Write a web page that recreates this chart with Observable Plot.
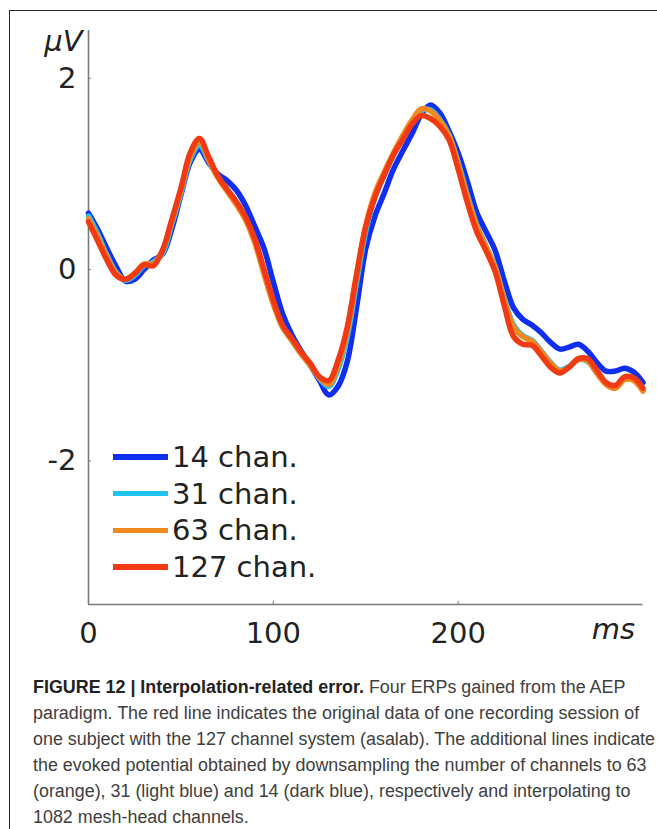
<!DOCTYPE html>
<html><head><meta charset="utf-8">
<script src="https://cdn.jsdelivr.net/npm/d3@7"></script>
<script src="https://cdn.jsdelivr.net/npm/@observablehq/plot@0.6"></script>
<style>
html,body{margin:0;padding:0;background:#fff;width:657px;height:829px;overflow:hidden;position:relative;}
#frame{position:absolute;left:9px;top:10px;width:720px;height:900px;border:1.5px solid #2a2a2a;box-sizing:border-box;}
#chart{position:absolute;left:0;top:0;}
#legend{position:absolute;left:113px;top:438.6px;font-family:"DejaVu Sans";font-size:29px;color:#222;}
.row{height:36.7px;display:flex;align-items:center;white-space:nowrap;}
.sw{width:55px;height:5.5px;margin-right:4px;}
#caption{position:absolute;left:33px;top:674px;font-family:"Liberation Sans";font-size:18px;line-height:26px;color:#404040;white-space:nowrap;transform-origin:0 0;}
#caption b{color:#222;}
#caption div{display:block;}
</style></head><body>
<div id="frame"></div>
<div id="chart"></div>
<div id="legend"></div>
<div id="caption">
<div><b>FIGURE 12 | Interpolation-related error.</b> Four ERPs gained from the AEP</div>
<div>paradigm. The red line indicates the original data of one recording session of</div>
<div id="line3">one subject with the 127 channel system (asalab). The additional lines indicate</div>
<div>the evoked potential obtained by downsampling the number of channels to 63</div>
<div>(orange), 31 (light blue) and 14 (dark blue), respectively and interpolating to</div>
<div>1082 mesh-head channels.</div>
</div>
<script>
// time axis (ms)
const times = [0,5,10,15,20,25,30,35,40,45,50,55,60,65,70,75,80,85,90,95,100,105,110,115,120,125,130,135,140,145,150,155,160,165,170,175,180,185,190,195,200,205,210,215,220,225,230,235,240,245,250,255,260,265,270,275,280,285,290,295,300];

// evoked potentials (µV)
const chan14 = [0.59,0.42,0.22,0.03,-0.12,-0.10,0.00,0.10,0.16,0.42,0.78,1.12,1.26,1.12,1.00,0.93,0.83,0.67,0.45,0.22,-0.13,-0.46,-0.68,-0.85,-1.00,-1.16,-1.31,-1.22,-0.96,-0.40,0.22,0.56,0.80,1.05,1.24,1.42,1.62,1.72,1.64,1.45,1.22,0.92,0.60,0.40,0.20,-0.12,-0.40,-0.52,-0.58,-0.66,-0.76,-0.83,-0.81,-0.78,-0.85,-0.97,-1.06,-1.06,-1.03,-1.07,-1.18];
const chan31 = [0.56,0.37,0.15,-0.03,-0.11,-0.06,0.04,0.08,0.17,0.47,0.80,1.15,1.30,1.14,0.97,0.84,0.70,0.53,0.30,-0.03,-0.35,-0.60,-0.74,-0.88,-1.00,-1.14,-1.22,-1.04,-0.70,-0.14,0.40,0.76,0.99,1.20,1.38,1.54,1.66,1.67,1.57,1.41,1.12,0.78,0.47,0.25,0.03,-0.30,-0.58,-0.69,-0.74,-0.85,-0.97,-1.05,-1.01,-0.94,-0.96,-1.08,-1.19,-1.22,-1.14,-1.15,-1.26];
const chan63 = [0.53,0.34,0.13,-0.04,-0.10,-0.04,0.06,0.06,0.20,0.50,0.83,1.18,1.34,1.15,0.96,0.82,0.68,0.52,0.28,-0.05,-0.36,-0.60,-0.74,-0.88,-1.00,-1.13,-1.20,-1.00,-0.64,-0.08,0.46,0.80,1.02,1.22,1.40,1.56,1.68,1.66,1.56,1.40,1.10,0.76,0.46,0.24,0.02,-0.32,-0.60,-0.70,-0.75,-0.86,-0.98,-1.06,-1.02,-0.94,-0.95,-1.08,-1.20,-1.24,-1.15,-1.16,-1.27];
const chan127 = [0.50,0.30,0.10,-0.06,-0.10,-0.04,0.05,0.04,0.20,0.52,0.85,1.22,1.37,1.18,0.98,0.84,0.71,0.55,0.32,0.00,-0.32,-0.58,-0.72,-0.86,-0.98,-1.12,-1.16,-0.95,-0.60,-0.05,0.45,0.76,0.99,1.20,1.36,1.52,1.61,1.58,1.50,1.36,1.05,0.70,0.40,0.20,-0.02,-0.38,-0.70,-0.78,-0.79,-0.90,-1.02,-1.08,-1.02,-0.93,-0.93,-1.05,-1.18,-1.21,-1.12,-1.13,-1.24];

const seriesNames = ["14 chan.","31 chan.","63 chan.","127 chan."];
const seriesColors = ["#0f2ff0","#22c2f0","#f2891e","#f23a12"];
const xTicks = [0,100,200];
const yTicks = [-2,0,2];
const xDomain = [0,300];
const yDomain = [-3.5,2.5];

const seriesValues = [chan14, chan31, chan63, chan127];
const rows = [];
seriesValues.forEach((vals,i) => vals.forEach((v,j) => rows.push({t: times[j], v, s: seriesNames[i]})));

const axisColor = "#7a7a7a";
const textColor = "#222";
const fmt = d => (d < 0 ? "-" + Math.abs(d) : String(d));

const chart = Plot.plot({
  width: 657,
  height: 660,
  marginLeft: 88,
  marginRight: 14.5,
  marginTop: 30,
  marginBottom: 56,
  x: {domain: xDomain},
  y: {domain: yDomain},
  color: {domain: seriesNames, range: seriesColors},
  style: {fontFamily: "DejaVu Sans", background: "transparent", color: textColor},
  marks: [
    Plot.ruleX([xDomain[0]], {stroke: axisColor, strokeWidth: 1.6}),
    Plot.ruleY([yDomain[0]], {stroke: axisColor, strokeWidth: 1.6}),
    Plot.ruleY(yTicks, {x1: xDomain[0], x2: xDomain[0] + 1.6, stroke: axisColor, strokeWidth: 1}),
    Plot.ruleX(xTicks, {y1: yDomain[0], y2: yDomain[0] + 0.035, stroke: axisColor, strokeWidth: 1}),
    Plot.axisY({ticks: yTicks, tickSize: 0, tickPadding: 12, fontSize: 29, fill: textColor, tickFormat: fmt, label: null}),
    Plot.axisX({ticks: xTicks, tickSize: 0, tickPadding: 18, fontSize: 29, fill: textColor, tickFormat: fmt, label: null}),
    Plot.line(rows, {x: "t", y: "v", z: "s", stroke: "s", strokeWidth: 5.5, curve: "catmull-rom", strokeLinejoin: "round", strokeLinecap: "round"}),
    Plot.text(["μV"], {frameAnchor: "top-left", dx: -6, dy: 11, textAnchor: "end", lineAnchor: "middle", fontStyle: "italic", fontSize: 29, fill: textColor}),
    Plot.text(["ms"], {frameAnchor: "bottom-right", dx: -8, dy: 25, textAnchor: "end", lineAnchor: "middle", fontStyle: "italic", fontSize: 29, fill: textColor})
  ]
});
document.getElementById("chart").appendChild(chart);

const legend = document.getElementById("legend");
seriesNames.forEach((name, i) => {
  const row = document.createElement("div");
  row.className = "row";
  const sw = document.createElement("span");
  sw.className = "sw";
  sw.style.background = seriesColors[i];
  const label = document.createElement("span");
  label.textContent = name;
  row.appendChild(sw);
  row.appendChild(label);
  legend.appendChild(row);
});

// fit caption width to the reference line width
const l3 = document.getElementById("line3");
const range = document.createRange();
range.selectNodeContents(l3);
const tw = range.getBoundingClientRect().width;
if (tw > 0) document.getElementById("caption").style.transform = `scaleX(${622 / tw})`;
</script>
</body></html>
